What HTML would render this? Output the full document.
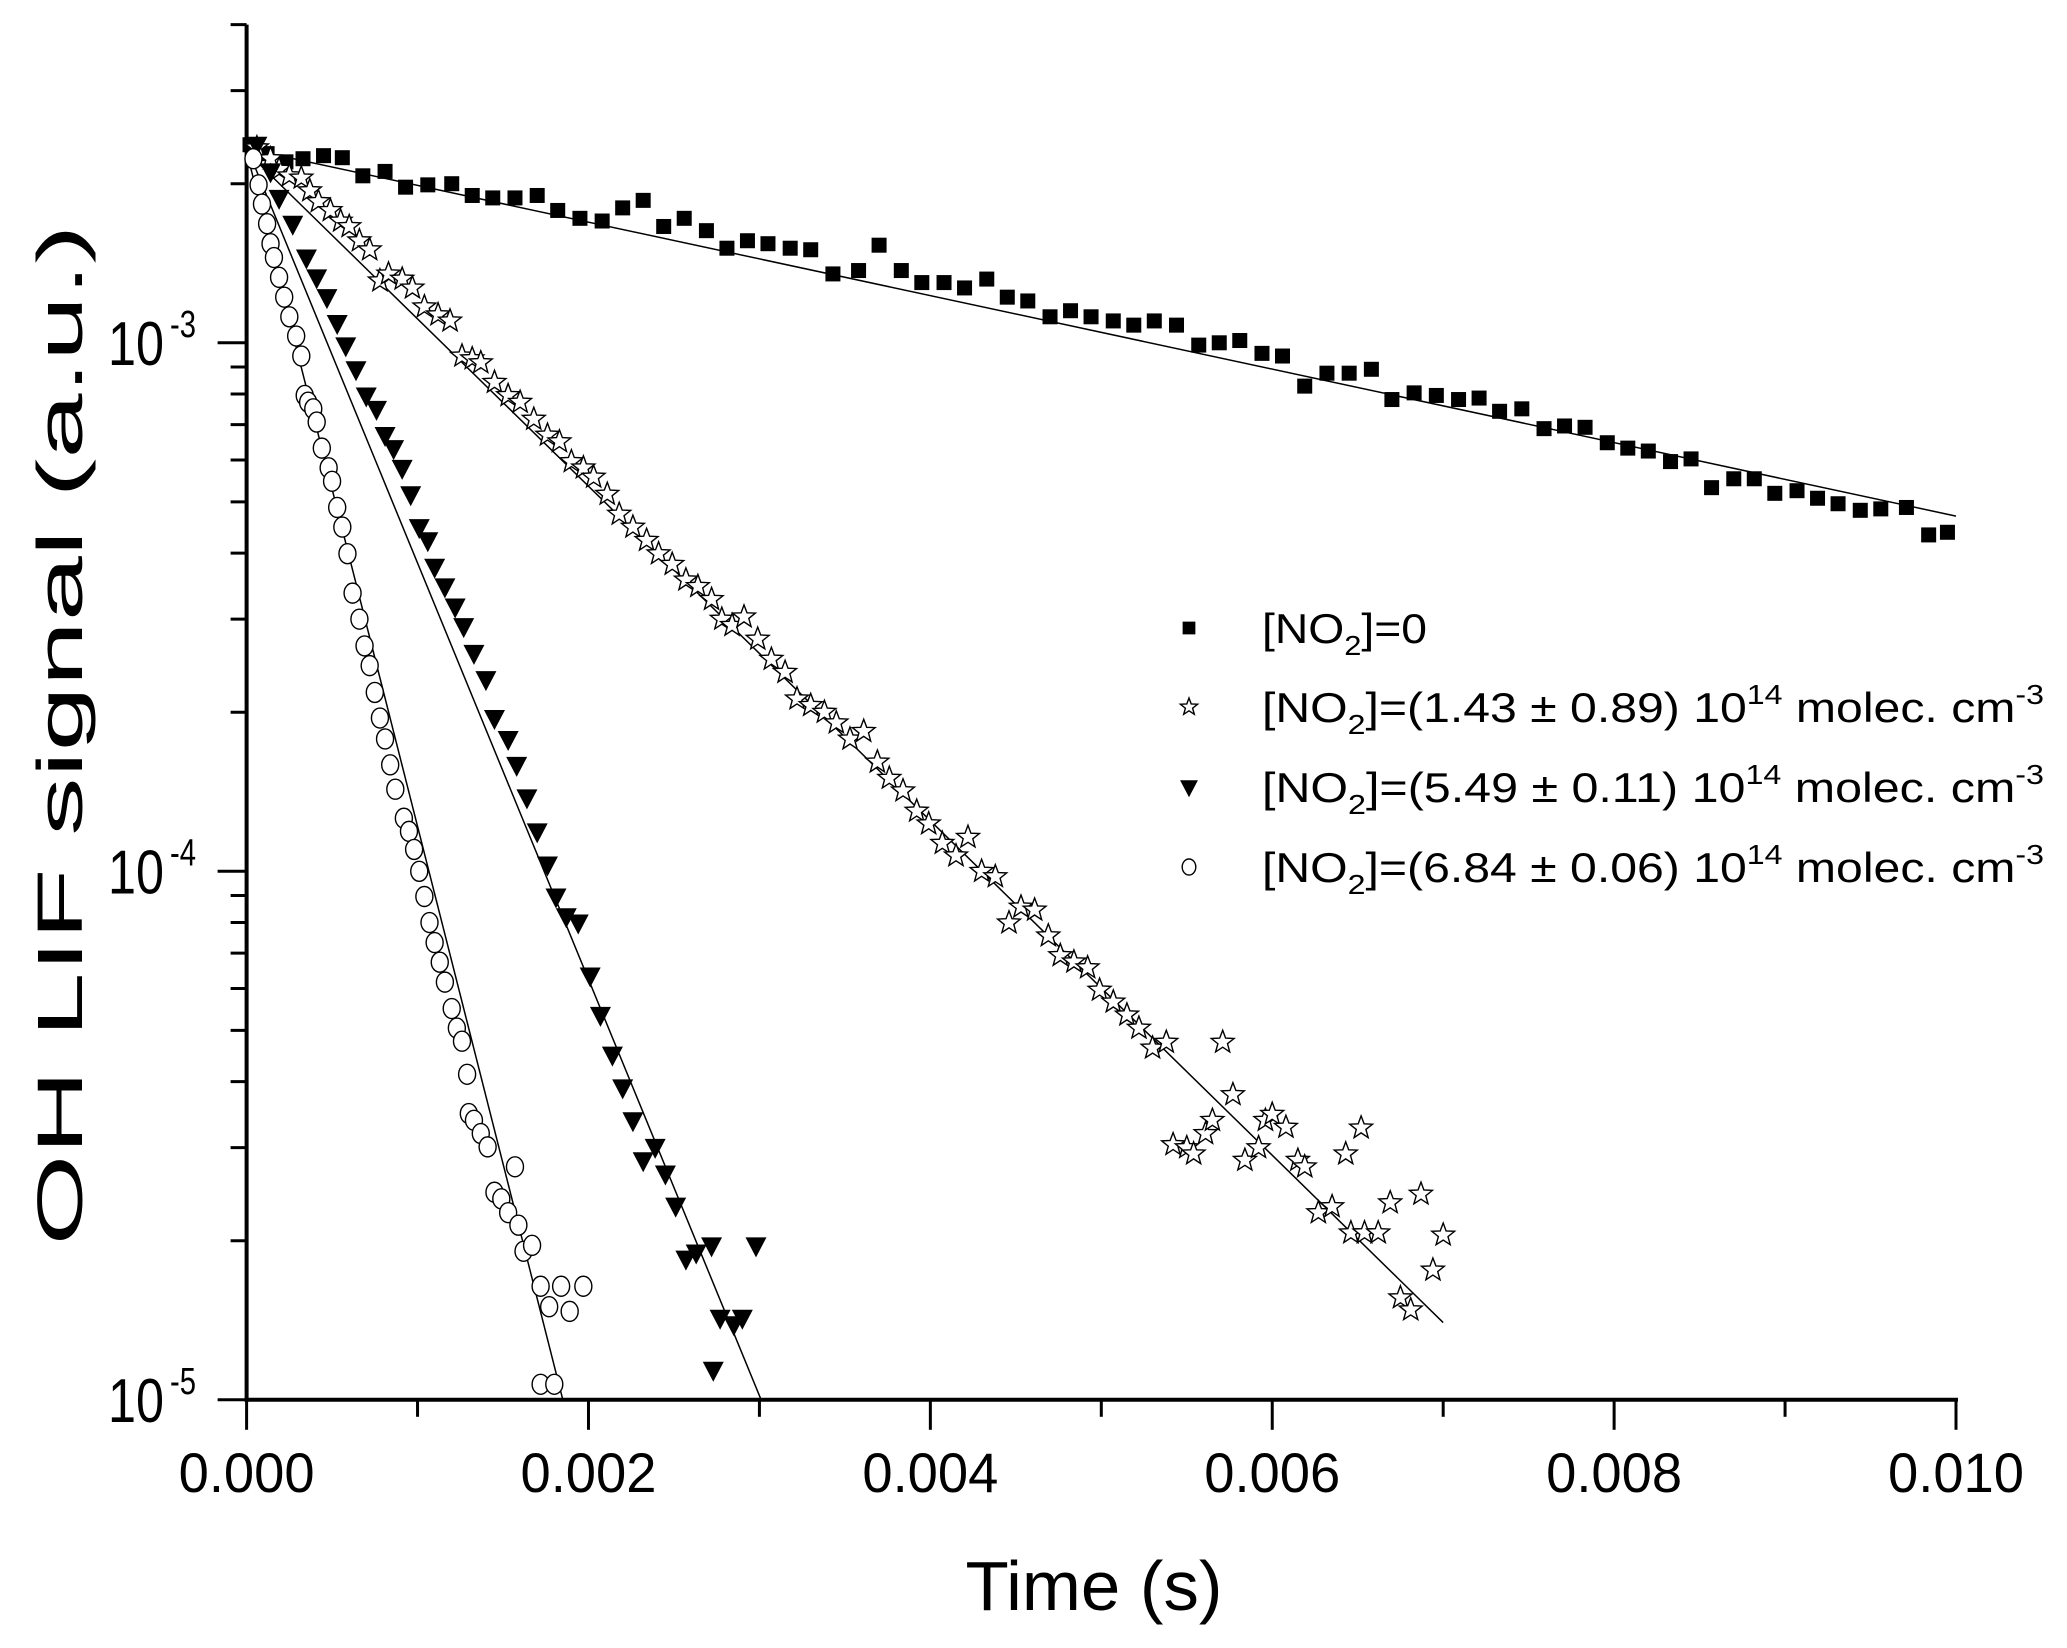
<!DOCTYPE html>
<html><head><meta charset="utf-8"><style>
html,body{margin:0;padding:0;background:#fff;}
svg{display:block;font-family:"Liberation Sans Narrow","Liberation Sans",sans-serif;}
</style></head><body>
<svg id="chart" width="2067" height="1648" viewBox="0 0 2067 1648">
<g id="axes"></g>
<g id="fits"></g>
<g id="marks"></g>
<g id="legend"></g>
</svg>
<script>
// ---- data (time in ms, signal in a.u.) ----
const sqT=[0.02,0.12,0.23,0.33,0.45,0.56,0.68,0.81,0.93,1.06,1.20,1.32,1.44,1.57,1.70,1.82,1.95,2.08,2.20,2.32,2.44,2.56,2.69,2.81,2.93,3.05,3.18,3.30,3.43,3.58,3.70,3.83,3.95,4.08,4.20,4.33,4.45,4.57,4.70,4.82,4.94,5.07,5.19,5.31,5.44,5.57,5.69,5.81,5.94,6.06,6.19,6.32,6.45,6.58,6.70,6.83,6.96,7.09,7.21,7.33,7.46,7.59,7.71,7.83,7.96,8.08,8.20,8.33,8.45,8.57,8.70,8.82,8.94,9.07,9.19,9.31,9.44,9.56,9.71,9.84,9.95];
const sqV=[2.37e-3,2.28e-3,2.20e-3,2.23e-3,2.26e-3,2.24e-3,2.07e-3,2.11e-3,1.97e-3,1.99e-3,2.00e-3,1.90e-3,1.88e-3,1.88e-3,1.90e-3,1.78e-3,1.72e-3,1.70e-3,1.80e-3,1.86e-3,1.66e-3,1.72e-3,1.63e-3,1.51e-3,1.56e-3,1.54e-3,1.51e-3,1.50e-3,1.35e-3,1.37e-3,1.53e-3,1.37e-3,1.30e-3,1.30e-3,1.27e-3,1.32e-3,1.22e-3,1.20e-3,1.12e-3,1.15e-3,1.12e-3,1.10e-3,1.08e-3,1.10e-3,1.08e-3,0.99e-3,1.00e-3,1.01e-3,0.955e-3,0.944e-3,0.828e-3,0.876e-3,0.876e-3,0.891e-3,0.781e-3,0.804e-3,0.795e-3,0.781e-3,0.786e-3,0.742e-3,0.750e-3,0.688e-3,0.696e-3,0.692e-3,0.647e-3,0.632e-3,0.624e-3,0.596e-3,0.603e-3,0.532e-3,0.553e-3,0.553e-3,0.519e-3,0.525e-3,0.508e-3,0.496e-3,0.482e-3,0.485e-3,0.488e-3,0.433e-3,0.438e-3];
const stT=[0.06,0.14,0.19,0.25,0.32,0.37,0.42,0.49,0.55,0.60,0.66,0.72,0.78,0.83,0.91,0.97,1.04,1.12,1.19,1.26,1.32,1.37,1.45,1.53,1.60,1.68,1.76,1.83,1.90,1.97,2.03,2.11,2.18,2.26,2.34,2.41,2.49,2.57,2.64,2.72,2.78,2.84,2.91,2.99,3.07,3.15,3.22,3.30,3.38,3.45,3.53,3.61,3.69,3.76,3.84,3.92,3.99,4.07,4.15,4.22,4.30,4.38,4.46,4.53,4.61,4.69,4.76,4.84,4.92,4.99,5.07,5.15,5.22,5.30,5.38,5.42,5.50,5.54,5.61,5.65,5.71,5.77,5.84,5.92,5.96,6.00,6.08,6.15,6.19,6.27,6.35,6.43,6.46,6.52,6.54,6.62,6.69,6.75,6.81,6.87,6.94,7.00];
const stV=[2.34e-3,2.23e-3,2.13e-3,2.07e-3,2.05e-3,1.94e-3,1.85e-3,1.78e-3,1.70e-3,1.66e-3,1.56e-3,1.50e-3,1.31e-3,1.35e-3,1.32e-3,1.27e-3,1.17e-3,1.13e-3,1.10e-3,9.44e-4,9.33e-4,9.17e-4,8.42e-4,7.95e-4,7.72e-4,7.17e-4,6.69e-4,6.5e-4,5.96e-4,5.8e-4,5.57e-4,5.17e-4,4.74e-4,4.48e-4,4.23e-4,3.99e-4,3.81e-4,3.56e-4,3.46e-4,3.27e-4,3.0e-4,2.92e-4,3.03e-4,2.75e-4,2.52e-4,2.38e-4,2.12e-4,2.06e-4,2.0e-4,1.91e-4,1.78e-4,1.84e-4,1.61e-4,1.5e-4,1.42e-4,1.3e-4,1.23e-4,1.13e-4,1.07e-4,1.16e-4,1.0e-4,9.77e-5,7.99e-5,8.56e-5,8.45e-5,7.55e-5,6.93e-5,6.74e-5,6.57e-5,5.96e-5,5.66e-5,5.35e-5,5.05e-5,4.63e-5,4.75e-5,3.04e-5,3.0e-5,2.92e-5,3.19e-5,3.38e-5,4.75e-5,3.78e-5,2.84e-5,3.0e-5,3.38e-5,3.47e-5,3.28e-5,2.84e-5,2.76e-5,2.26e-5,2.32e-5,2.92e-5,2.07e-5,3.27e-5,2.07e-5,2.07e-5,2.36e-5,1.56e-5,1.48e-5,2.45e-5,1.76e-5,2.05e-5];
const trT=[0.06,0.14,0.19,0.27,0.35,0.41,0.47,0.53,0.58,0.64,0.70,0.76,0.81,0.86,0.91,0.96,1.01,1.06,1.10,1.16,1.22,1.27,1.33,1.40,1.45,1.53,1.58,1.64,1.70,1.76,1.81,1.87,1.94,2.01,2.07,2.14,2.20,2.26,2.32,2.39,2.45,2.51,2.57,2.63,2.72,2.77,2.85,2.90,2.98,2.73];
const trV=[2.37e-3,2.11e-3,1.88e-3,1.68e-3,1.45e-3,1.33e-3,1.22e-3,1.09e-3,9.89e-4,8.91e-4,7.95e-4,7.5e-4,6.69e-4,6.32e-4,5.8e-4,5.17e-4,4.48e-4,4.23e-4,3.77e-4,3.46e-4,3.17e-4,2.91e-4,2.59e-4,2.31e-4,1.95e-4,1.78e-4,1.59e-4,1.38e-4,1.19e-4,1.03e-4,8.96e-5,8.22e-5,8.0e-5,6.35e-5,5.35e-5,4.5e-5,3.9e-5,3.38e-5,2.84e-5,3.01e-5,2.68e-5,2.33e-5,1.85e-5,1.9e-5,1.96e-5,1.43e-5,1.39e-5,1.43e-5,1.96e-5,1.14e-5];
const ciT=[0.04,0.07,0.09,0.12,0.14,0.16,0.19,0.22,0.25,0.29,0.32,0.34,0.36,0.39,0.41,0.44,0.48,0.50,0.53,0.56,0.59,0.62,0.66,0.69,0.72,0.75,0.78,0.81,0.84,0.87,0.92,0.95,0.98,1.01,1.04,1.07,1.10,1.13,1.16,1.20,1.23,1.26,1.29,1.30,1.33,1.37,1.41,1.45,1.49,1.53,1.57,1.59,1.62,1.67,1.72,1.77,1.84,1.89,1.97,1.72,1.80];
const ciV=[2.23e-3,1.99e-3,1.83e-3,1.68e-3,1.54e-3,1.45e-3,1.33e-3,1.22e-3,1.12e-3,1.03e-3,9.44e-4,7.95e-4,7.72e-4,7.5e-4,7.08e-4,6.32e-4,5.8e-4,5.47e-4,4.88e-4,4.48e-4,3.99e-4,3.36e-4,3.0e-4,2.67e-4,2.45e-4,2.18e-4,1.95e-4,1.78e-4,1.59e-4,1.43e-4,1.26e-4,1.19e-4,1.1e-4,1.0e-4,8.96e-5,8.0e-5,7.33e-5,6.73e-5,6.17e-5,5.5e-5,5.05e-5,4.77e-5,4.13e-5,3.48e-5,3.38e-5,3.19e-5,3.01e-5,2.47e-5,2.4e-5,2.26e-5,2.76e-5,2.14e-5,1.91e-5,1.96e-5,1.64e-5,1.5e-5,1.64e-5,1.47e-5,1.64e-5,1.07e-5,1.07e-5];
// fit endpoints [t0,v0,t1,v1]
const fitSq=[0,2.33e-3,10,4.7e-4];
const fitSt=[0,2.3e-3,7.0,1.4e-5];
const fitTr=[0,2.35e-3,3.01,1e-5];
const fitCi=[0,2.3e-3,1.85,1e-5];
const xTicks=[0,2,4,6,8,10];
const xTickLabels=["0.000","0.002","0.004","0.006","0.008","0.010"];
const yMajor=[-5,-4,-3];

const NS="http://www.w3.org/2000/svg";
const X0=246.6,XS=170.94,Y3=342.8,DEC=528.5;
const xp=t=>X0+t*XS;
const yp=v=>Y3-(Math.log10(v)+3)*DEC;
function mk(tag,attrs,parent){const e=document.createElementNS(NS,tag);for(const k in attrs)e.setAttribute(k,attrs[k]);parent.appendChild(e);return e;}
const axes=document.getElementById('axes'),fits=document.getElementById('fits'),marks=document.getElementById('marks'),leg=document.getElementById('legend');
const yTop=yp(4e-3),yBot=yp(1e-5);

let a=mk('line',{x1:X0,y1:yTop,x2:X0,y2:yBot+2,stroke:'#000','stroke-width':4},axes);

a=mk('line',{x1:X0-2,y1:yBot,x2:xp(10)+2,y2:yBot,stroke:'#000','stroke-width':4},axes);

for(let t=0;t<=10;t++){
  const maj=t%2===0;
  const l=mk('line',{x1:xp(t),y1:yBot,x2:xp(t),y2:yBot+(maj?30:17),stroke:'#000','stroke-width':3},axes);
  
  
}
xTicks.forEach((t,i)=>{
  const tx=mk('text',{x:xp(t),y:1492,'font-size':56,'text-anchor':'middle',textLength:136,lengthAdjust:'spacingAndGlyphs'},axes);
  tx.textContent=xTickLabels[i];
  
  
});
for(let d=-5;d<-2;d++){
  for(let m=1;m<=9;m++){
    const v=m*Math.pow(10,d);
    if(v>4.0001e-3)continue;
    const maj=m===1;
    const l=mk('line',{x1:X0-(maj?29:16),y1:yp(v),x2:X0,y2:yp(v),stroke:'#000','stroke-width':3},axes);
    
    
  }
}
yMajor.forEach(e=>{
  const tx=mk('text',{x:108,y:yp(Math.pow(10,e))+22,'font-size':62},axes);
  
  
  const t1=mk('tspan',{textLength:56,lengthAdjust:'spacingAndGlyphs'},tx);t1.textContent='10';
  const t2=mk('tspan',{dy:-28,'font-size':38,dx:6,textLength:26,lengthAdjust:'spacingAndGlyphs'},tx);t2.textContent='-'+(-e);
});
let tt=mk('text',{x:1094,y:1610,'font-size':70,'text-anchor':'middle',textLength:257,lengthAdjust:'spacingAndGlyphs'},axes);
tt.textContent='Time (s)';


tt=mk('text',{x:0,y:0,'font-size':64,'text-anchor':'middle',textLength:1021,lengthAdjust:'spacingAndGlyphs',transform:'translate(82,735) rotate(-90)'},axes);
tt.textContent='OH LIF signal (a.u.)';



[[fitSq,'fit-no2-0'],[fitSt,'fit-no2-1'],[fitTr,'fit-no2-2'],[fitCi,'fit-no2-3']].forEach(([f,n])=>{
  const l=mk('line',{x1:xp(f[0]),y1:yp(f[1]),x2:xp(f[2]),y2:yp(f[3]),stroke:'#000','stroke-width':1.5},fits);
  
  
});

function starPts(cx,cy,R){const r=R*0.42;let p=[];for(let i=0;i<10;i++){const ang=-Math.PI/2+i*Math.PI/5;const rr=i%2?r:R;p.push((cx+rr*Math.cos(ang)).toFixed(1)+','+(cy+rr*Math.sin(ang)).toFixed(1));}return p.join(' ');}
function drawMarker(kind,cx,cy,parent,s){
  s=s||1;let e;
  if(kind==='sq')e=mk('rect',{x:cx-7.5*s,y:cy-7.5*s,width:15*s,height:15*s,fill:'#000'},parent);
  else if(kind==='st')e=mk('polygon',{points:starPts(cx,cy,12*s),fill:'#fff',stroke:'#000','stroke-width':1.4},parent);
  else if(kind==='tr')e=mk('polygon',{points:`${cx-10.5*s},${cy-8*s} ${cx+10.5*s},${cy-8*s} ${cx},${cy+12*s}`,fill:'#000'},parent);
  else e=mk('ellipse',{cx:cx,cy:cy,rx:8.5*s,ry:10*s,fill:'#fff',stroke:'#000','stroke-width':1.4},parent);
  return e;
}
[[sqT,sqV,'sq','point-no2-0'],[stT,stV,'st','point-no2-1'],[trT,trV,'tr','point-no2-2'],[ciT,ciV,'ci','point-no2-3']].forEach(([T,V,k,n])=>{
  T.forEach((t,i)=>{
    const e=drawMarker(k,xp(t),yp(V[i]),marks);
    
    
  });
});

const legRows=[['sq',643,'0',null,165],['st',722,'(1.43 ± 0.89) 10','14',782],['tr',802,'(5.49 ± 0.11) 10','14',782],['ci',882,'(6.84 ± 0.06) 10','14',782]];
legRows.forEach(r=>{
  const g=mk('g',{},leg);
  
  
  const m=drawMarker(r[0],1189,r[1]-15,g,r[0]==='st'?0.75:(r[0]==='ci'?0.8:0.85));
  
  
  const tx=mk('text',{x:1262,y:r[1],'font-size':42,textLength:r[4],lengthAdjust:'spacingAndGlyphs'},g);
  
  
  let s=mk('tspan',{},tx);s.textContent='[NO';
  s=mk('tspan',{dy:12,'font-size':28},tx);s.textContent='2';
  s=mk('tspan',{dy:-12},tx);s.textContent=']='+r[2];
  if(r[3]){
    s=mk('tspan',{dy:-18,'font-size':28},tx);s.textContent=r[3];
    s=mk('tspan',{dy:18},tx);s.textContent=' molec. cm';
    s=mk('tspan',{dy:-18,'font-size':28},tx);s.textContent='-3';
  }
});
</script>
</body></html>
